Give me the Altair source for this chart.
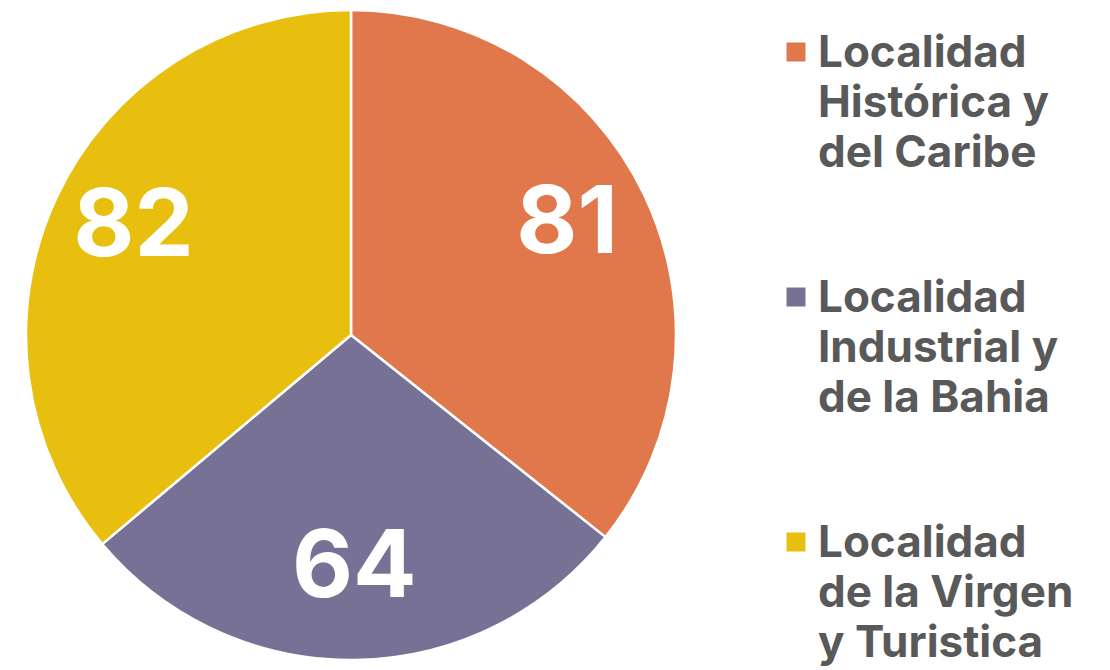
import altair as alt
import pandas as pd

categories = ["Localidad Histórica y del Caribe",
              "Localidad Industrial y de la Bahia",
              "Localidad de la Virgen y Turistica"]
legend_labels = ["Localidad\nHistórica y\ndel Caribe",
                 "Localidad\nIndustrial y\nde la Bahia",
                 "Localidad\nde la Virgen\ny Turistica"]
values = [81, 64, 82]
colors = ["#E0784C", "#777195", "#E8BF0F"]

df = pd.DataFrame({
    "cat": categories,
    "label": legend_labels,
    "value": values,
    "idx": list(range(len(categories))),
})

color_enc = alt.Color("cat:N", scale=alt.Scale(domain=categories, range=colors), legend=None)

base = alt.Chart(df).encode(
    theta=alt.Theta("value:Q", stack=True),
    order=alt.Order("idx:Q"),
    color=color_enc,
)
arcs = base.mark_arc(outerRadius=325, stroke="white", strokeWidth=2.5, strokeJoin="bevel")
nums = base.mark_text(radius=240, dy=-6, fontSize=94, font="Inter", fontWeight="bold",
                      color="white", align="center", baseline="middle").encode(
    text="value:Q", color=alt.value("white"))
pie = alt.layer(arcs, nums).properties(width=686, height=654)

ysc = alt.Y("cat:N", sort=categories, axis=None,
            scale=alt.Scale(type="point", range=[59, 549], padding=0))
leg_base = alt.Chart(df).encode(y=ysc)
squares = leg_base.mark_square(size=361, opacity=1, yOffset=-15).encode(
    x=alt.value(102), color=color_enc)
texts = leg_base.mark_text(align="left", baseline="alphabetic", lineBreak="\n",
                           lineHeight=50, fontSize=44, font="Inter",
                           fontWeight="bold", color="#595959").encode(
    x=alt.value(124), text="label:N")
legend = alt.layer(squares, texts).properties(width=408, height=654)

chart = alt.hconcat(pie, legend, spacing=0).properties(
    padding=0, background="white"
).configure_view(strokeWidth=0, stroke="transparent")

chart.save("out.html", embed_options={"renderer": "svg", "actions": False})
